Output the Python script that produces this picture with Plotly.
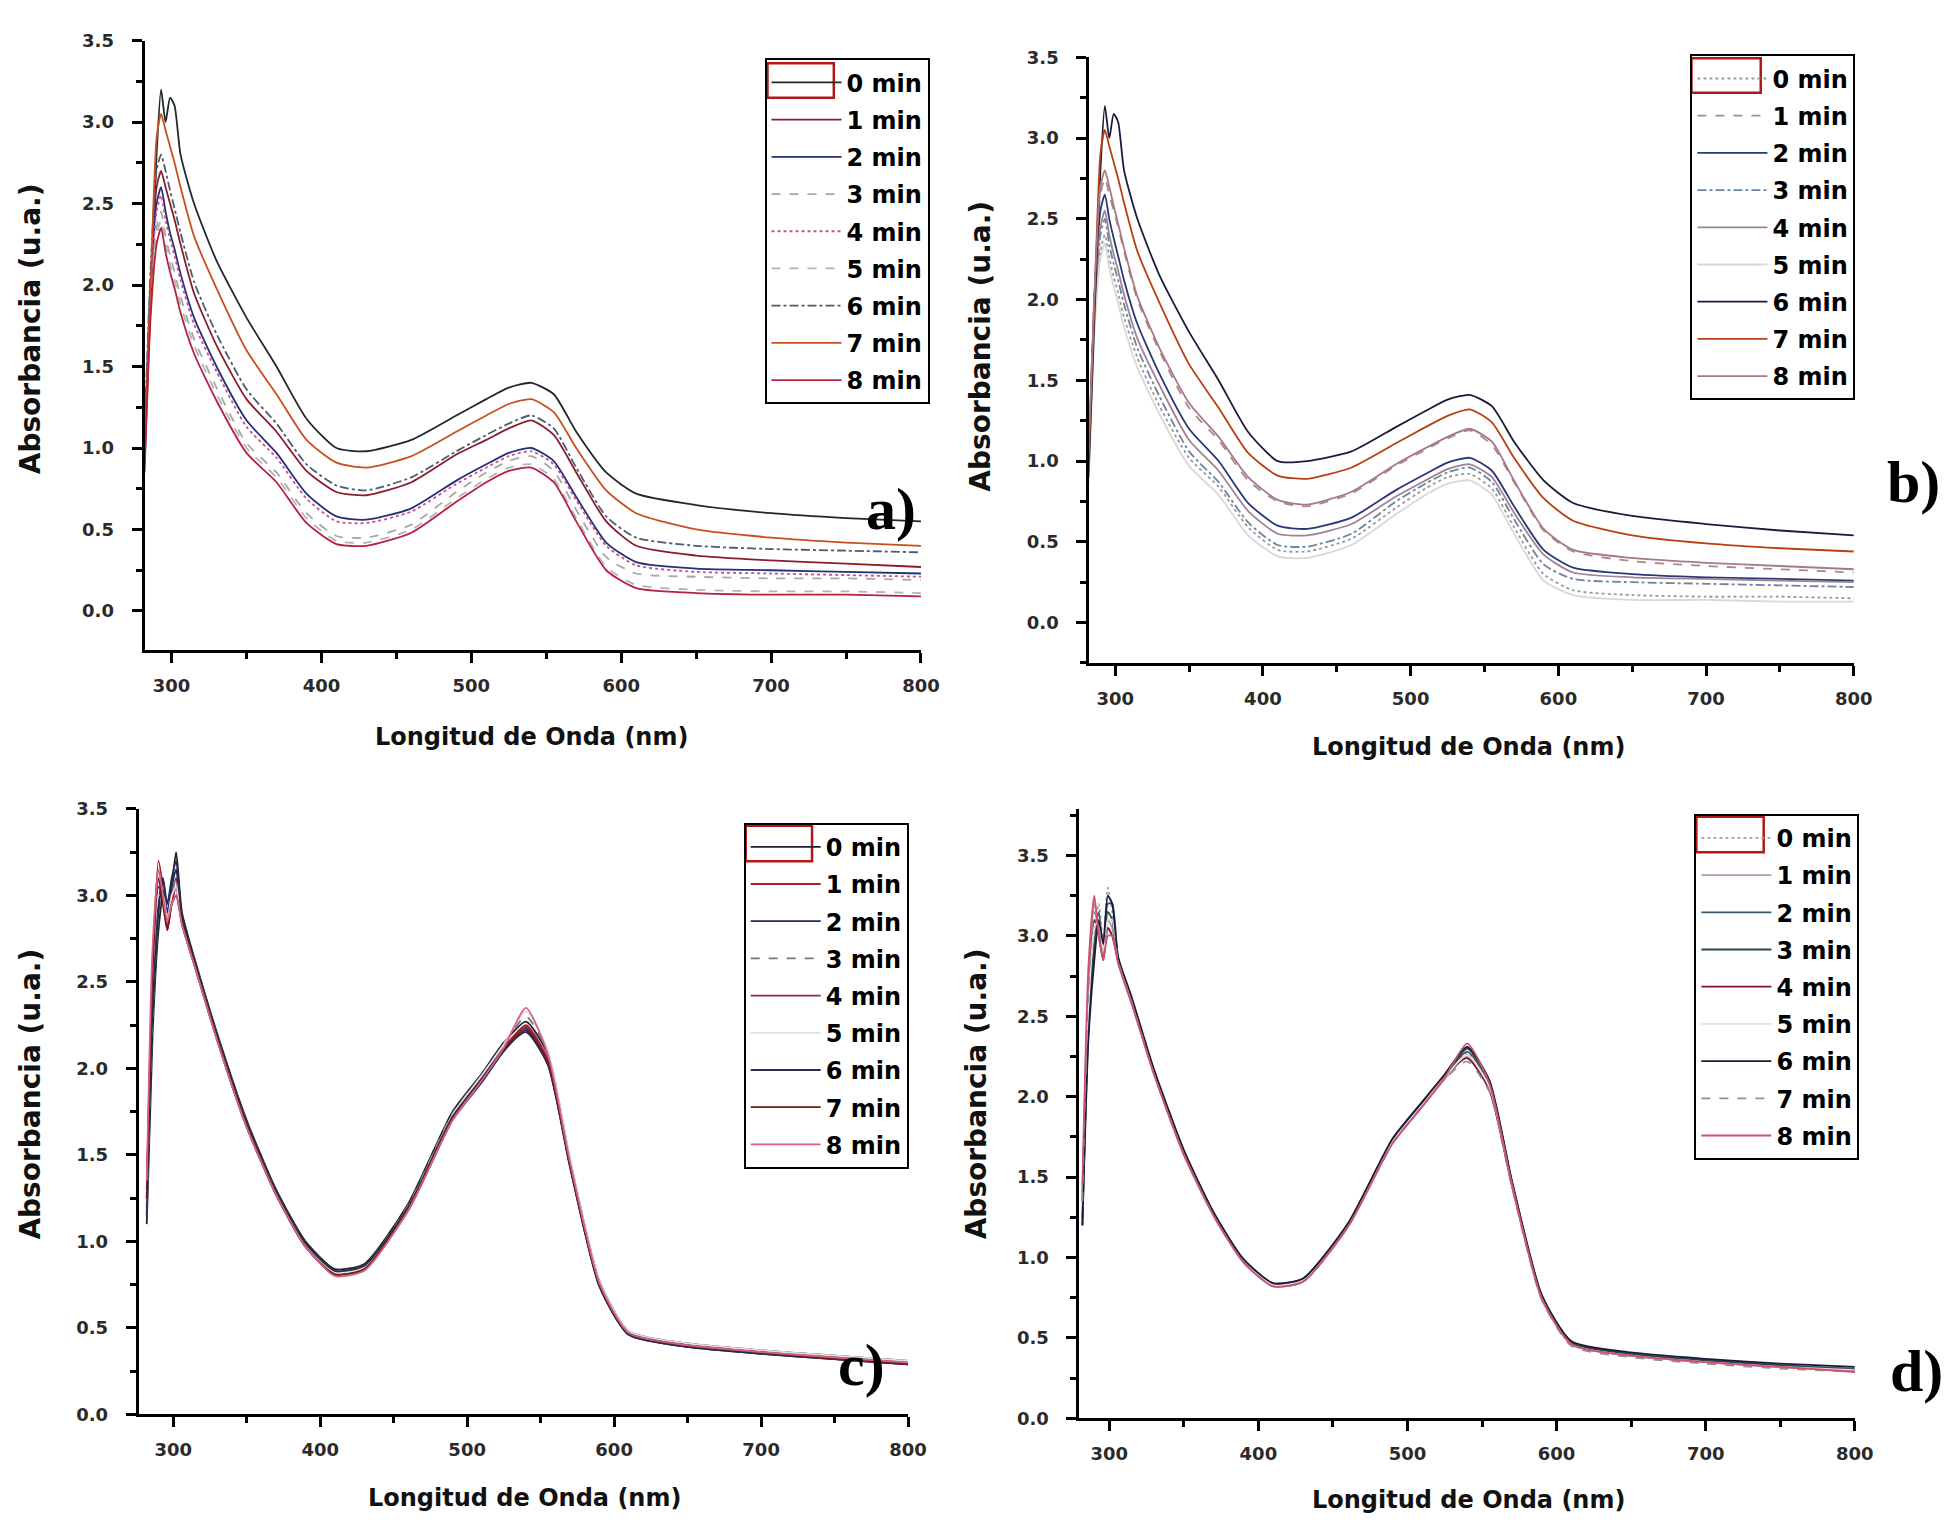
import plotly.graph_objects as go

# ---------------- data ----------------
wavelength = [282, 286, 290, 293, 296, 299, 302, 306, 315, 330, 350, 370, 390, 410,
              430, 460, 490, 510, 525, 540, 555, 570, 590, 610, 650, 700, 750, 800]

legend_labels = ["0 min", "1 min", "2 min", "3 min", "4 min", "5 min", "6 min", "7 min", "8 min"]

# panel a) absorbance, one list per legend entry (0 .. 8 min)
panel_a = [
    [0.90, 1.90, 2.80, 3.20, 3.00, 3.15, 3.10, 2.80, 2.50, 2.15, 1.80, 1.50, 1.18, 1.00, 0.98, 1.05, 1.20, 1.30, 1.37, 1.40, 1.33, 1.10, 0.85, 0.72, 0.65, 0.60, 0.57, 0.55],
    [1.00, 2.00, 2.60, 2.70, 2.60, 2.50, 2.40, 2.25, 1.95, 1.63, 1.30, 1.10, 0.86, 0.73, 0.71, 0.79, 0.96, 1.05, 1.12, 1.17, 1.08, 0.85, 0.55, 0.40, 0.34, 0.31, 0.29, 0.27],
    [1.00, 2.00, 2.50, 2.60, 2.45, 2.32, 2.22, 2.07, 1.80, 1.50, 1.17, 0.97, 0.72, 0.58, 0.56, 0.63, 0.80, 0.90, 0.97, 1.00, 0.92, 0.70, 0.42, 0.30, 0.26, 0.25, 0.24, 0.23],
    [0.90, 1.90, 2.35, 2.45, 2.30, 2.18, 2.08, 1.93, 1.67, 1.37, 1.03, 0.85, 0.60, 0.46, 0.45, 0.53, 0.73, 0.85, 0.92, 0.95, 0.86, 0.62, 0.33, 0.23, 0.21, 0.20, 0.20, 0.19],
    [0.95, 1.95, 2.45, 2.55, 2.40, 2.28, 2.18, 2.03, 1.76, 1.47, 1.13, 0.94, 0.69, 0.55, 0.54, 0.61, 0.78, 0.88, 0.95, 0.98, 0.90, 0.68, 0.40, 0.28, 0.24, 0.23, 0.22, 0.21],
    [0.90, 1.85, 2.30, 2.40, 2.25, 2.13, 2.03, 1.88, 1.63, 1.33, 1.00, 0.82, 0.57, 0.43, 0.42, 0.50, 0.69, 0.81, 0.88, 0.90, 0.81, 0.57, 0.27, 0.16, 0.13, 0.12, 0.12, 0.11],
    [1.10, 2.10, 2.70, 2.80, 2.70, 2.58, 2.47, 2.32, 2.02, 1.70, 1.36, 1.15, 0.90, 0.77, 0.74, 0.82, 0.98, 1.08, 1.15, 1.20, 1.12, 0.88, 0.58, 0.45, 0.40, 0.38, 0.37, 0.36],
    [1.00, 2.00, 2.90, 3.05, 2.95, 2.85, 2.75, 2.60, 2.30, 1.98, 1.60, 1.33, 1.05, 0.91, 0.88, 0.95, 1.10, 1.20, 1.27, 1.30, 1.22, 1.00, 0.74, 0.60, 0.50, 0.45, 0.42, 0.40],
    [0.85, 1.80, 2.25, 2.35, 2.20, 2.08, 1.98, 1.83, 1.58, 1.29, 0.97, 0.79, 0.54, 0.41, 0.40, 0.48, 0.67, 0.79, 0.86, 0.88, 0.79, 0.55, 0.25, 0.14, 0.11, 0.10, 0.10, 0.09],
]

# panel b)
panel_b = [
    [0.90, 1.85, 2.30, 2.40, 2.26, 2.14, 2.04, 1.89, 1.64, 1.34, 1.02, 0.84, 0.59, 0.45, 0.44, 0.52, 0.71, 0.83, 0.90, 0.92, 0.83, 0.59, 0.30, 0.20, 0.17, 0.16, 0.16, 0.15],
    [1.00, 2.05, 2.65, 2.75, 2.65, 2.55, 2.45, 2.30, 2.00, 1.68, 1.33, 1.13, 0.88, 0.75, 0.72, 0.80, 0.97, 1.07, 1.14, 1.19, 1.10, 0.87, 0.57, 0.44, 0.38, 0.35, 0.33, 0.31],
    [1.00, 2.00, 2.55, 2.65, 2.50, 2.38, 2.27, 2.12, 1.85, 1.54, 1.20, 1.00, 0.74, 0.60, 0.58, 0.65, 0.82, 0.92, 0.99, 1.02, 0.94, 0.72, 0.45, 0.34, 0.30, 0.28, 0.27, 0.26],
    [0.92, 1.90, 2.40, 2.50, 2.34, 2.22, 2.12, 1.97, 1.70, 1.40, 1.06, 0.87, 0.62, 0.48, 0.47, 0.55, 0.75, 0.86, 0.93, 0.96, 0.87, 0.64, 0.36, 0.27, 0.25, 0.24, 0.23, 0.22],
    [0.95, 1.95, 2.45, 2.55, 2.40, 2.28, 2.18, 2.03, 1.76, 1.47, 1.13, 0.94, 0.69, 0.55, 0.54, 0.61, 0.78, 0.88, 0.95, 0.98, 0.90, 0.68, 0.42, 0.31, 0.28, 0.27, 0.26, 0.25],
    [0.85, 1.80, 2.25, 2.35, 2.20, 2.08, 1.98, 1.83, 1.58, 1.29, 0.97, 0.79, 0.54, 0.41, 0.40, 0.48, 0.67, 0.79, 0.86, 0.88, 0.79, 0.55, 0.26, 0.17, 0.14, 0.14, 0.13, 0.13],
    [0.90, 1.90, 2.80, 3.20, 3.00, 3.15, 3.10, 2.80, 2.50, 2.15, 1.80, 1.50, 1.18, 1.00, 1.00, 1.06, 1.21, 1.31, 1.38, 1.41, 1.34, 1.12, 0.88, 0.74, 0.66, 0.61, 0.57, 0.54],
    [1.00, 2.00, 2.90, 3.05, 2.95, 2.85, 2.75, 2.60, 2.30, 1.98, 1.60, 1.33, 1.05, 0.91, 0.89, 0.96, 1.11, 1.21, 1.28, 1.32, 1.24, 1.02, 0.77, 0.63, 0.54, 0.49, 0.46, 0.44],
    [1.05, 2.05, 2.70, 2.80, 2.70, 2.58, 2.47, 2.32, 2.02, 1.70, 1.36, 1.15, 0.90, 0.76, 0.73, 0.81, 0.98, 1.08, 1.15, 1.20, 1.12, 0.88, 0.58, 0.45, 0.40, 0.37, 0.35, 0.33],
]

# panel c)
panel_c = [
    [1.10, 2.20, 2.80, 3.00, 2.85, 3.05, 3.25, 2.90, 2.62, 2.20, 1.70, 1.30, 1.00, 0.84, 0.87, 1.22, 1.75, 1.97, 2.15, 2.27, 2.08, 1.47, 0.77, 0.48, 0.41, 0.37, 0.34, 0.31],
    [1.30, 2.60, 3.20, 3.05, 2.80, 3.00, 3.10, 2.85, 2.60, 2.18, 1.68, 1.28, 0.98, 0.82, 0.85, 1.20, 1.72, 1.95, 2.12, 2.25, 2.05, 1.45, 0.75, 0.47, 0.40, 0.36, 0.33, 0.30],
    [1.20, 2.40, 2.95, 3.10, 2.90, 3.05, 3.15, 2.84, 2.58, 2.16, 1.66, 1.27, 0.97, 0.81, 0.84, 1.18, 1.70, 1.92, 2.10, 2.22, 2.02, 1.43, 0.74, 0.46, 0.39, 0.35, 0.32, 0.29],
    [1.15, 2.30, 2.90, 3.05, 2.85, 3.00, 3.10, 2.86, 2.61, 2.19, 1.69, 1.29, 0.99, 0.83, 0.86, 1.21, 1.74, 1.96, 2.14, 2.30, 2.09, 1.47, 0.77, 0.48, 0.41, 0.37, 0.34, 0.31],
    [1.25, 2.50, 3.05, 3.00, 2.80, 2.95, 3.05, 2.83, 2.59, 2.17, 1.67, 1.28, 0.98, 0.82, 0.85, 1.19, 1.71, 1.94, 2.12, 2.24, 2.04, 1.44, 0.75, 0.47, 0.40, 0.36, 0.33, 0.30],
    [1.20, 2.45, 3.00, 3.00, 2.85, 3.00, 3.05, 2.85, 2.60, 2.18, 1.68, 1.28, 0.98, 0.82, 0.85, 1.20, 1.73, 1.96, 2.14, 2.33, 2.10, 1.48, 0.77, 0.48, 0.41, 0.37, 0.34, 0.31],
    [1.15, 2.35, 2.90, 3.10, 2.95, 3.10, 3.20, 2.87, 2.61, 2.19, 1.69, 1.29, 0.99, 0.83, 0.86, 1.20, 1.72, 1.94, 2.11, 2.21, 2.02, 1.43, 0.74, 0.46, 0.39, 0.35, 0.32, 0.29],
    [1.25, 2.55, 3.10, 2.95, 2.80, 2.95, 3.00, 2.84, 2.59, 2.17, 1.67, 1.27, 0.97, 0.81, 0.84, 1.19, 1.71, 1.93, 2.11, 2.23, 2.03, 1.44, 0.75, 0.47, 0.40, 0.36, 0.32, 0.29],
    [1.35, 2.70, 3.15, 3.00, 2.85, 2.95, 3.00, 2.83, 2.58, 2.16, 1.66, 1.27, 0.97, 0.80, 0.83, 1.18, 1.70, 1.93, 2.12, 2.35, 2.08, 1.46, 0.76, 0.47, 0.40, 0.36, 0.33, 0.30],
]

# panel d)
panel_d = [
    [1.30, 2.50, 3.00, 3.20, 2.95, 3.30, 3.15, 2.85, 2.60, 2.15, 1.65, 1.27, 0.98, 0.83, 0.86, 1.20, 1.72, 1.95, 2.12, 2.27, 2.07, 1.46, 0.75, 0.46, 0.39, 0.35, 0.32, 0.30],
    [1.40, 2.70, 3.20, 3.05, 2.85, 3.10, 3.05, 2.83, 2.58, 2.14, 1.64, 1.26, 0.97, 0.82, 0.85, 1.19, 1.71, 1.94, 2.11, 2.25, 2.05, 1.45, 0.74, 0.46, 0.39, 0.35, 0.32, 0.29],
    [1.25, 2.45, 2.95, 3.15, 2.90, 3.20, 3.20, 2.86, 2.61, 2.16, 1.66, 1.28, 0.99, 0.84, 0.87, 1.21, 1.73, 1.96, 2.13, 2.28, 2.08, 1.47, 0.76, 0.47, 0.40, 0.36, 0.33, 0.31],
    [1.20, 2.40, 2.90, 3.10, 2.90, 3.15, 3.10, 2.85, 2.60, 2.15, 1.65, 1.27, 0.98, 0.83, 0.86, 1.20, 1.72, 1.95, 2.12, 2.30, 2.09, 1.47, 0.76, 0.47, 0.40, 0.36, 0.33, 0.30],
    [1.35, 2.60, 3.10, 3.00, 2.85, 3.05, 3.00, 2.84, 2.59, 2.15, 1.65, 1.27, 0.98, 0.83, 0.86, 1.20, 1.72, 1.95, 2.13, 2.24, 2.04, 1.45, 0.75, 0.46, 0.39, 0.35, 0.32, 0.30],
    [1.30, 2.55, 3.05, 3.10, 2.90, 3.10, 3.10, 2.85, 2.60, 2.15, 1.65, 1.27, 0.98, 0.83, 0.86, 1.20, 1.72, 1.95, 2.12, 2.26, 2.06, 1.46, 0.75, 0.46, 0.39, 0.35, 0.32, 0.30],
    [1.20, 2.35, 2.85, 3.10, 2.95, 3.25, 3.20, 2.87, 2.62, 2.17, 1.67, 1.28, 0.99, 0.84, 0.87, 1.21, 1.74, 1.97, 2.14, 2.31, 2.10, 1.48, 0.77, 0.48, 0.41, 0.37, 0.34, 0.32],
    [1.35, 2.65, 3.15, 3.05, 2.85, 3.05, 3.05, 2.84, 2.59, 2.14, 1.64, 1.26, 0.97, 0.82, 0.85, 1.19, 1.71, 1.94, 2.11, 2.22, 2.03, 1.44, 0.74, 0.45, 0.38, 0.34, 0.31, 0.29],
    [1.45, 2.80, 3.25, 3.00, 2.85, 3.00, 3.00, 2.83, 2.58, 2.14, 1.64, 1.26, 0.97, 0.82, 0.85, 1.19, 1.71, 1.94, 2.12, 2.33, 2.08, 1.46, 0.75, 0.46, 0.39, 0.35, 0.32, 0.29],
]

# ---------------- styles ----------------
colors_a = ["#1e2a2a", "#8b1c2c", "#23307a", "#a8a8a8", "#c8508c", "#b4b4b4", "#4c5c72", "#c8501e", "#b82040"]
dashes_a = ["solid", "solid", "solid", "dash", "dot", "dash", "dashdot", "solid", "solid"]
colors_b = ["#9a9a9a", "#a88c80", "#283878", "#6a86a0", "#a08494", "#d8d8d8", "#1a1c3a", "#b84010", "#a87888"]
dashes_b = ["dot", "dash", "solid", "dashdot", "solid", "solid", "solid", "solid", "solid"]
colors_c = ["#1a2430", "#a82030", "#1c2a6a", "#6a7888", "#a0204c", "#e0e0e0", "#2a2a4a", "#701c1c", "#d86080"]
dashes_c = ["solid", "solid", "solid", "dash", "solid", "solid", "solid", "solid", "solid"]
colors_d = ["#a0a0a0", "#b89898", "#3a5a6a", "#2a4848", "#801030", "#e0e0e0", "#1a1a3a", "#909090", "#d05070"]
dashes_d = ["dot", "solid", "solid", "solid", "solid", "solid", "solid", "dash", "solid"]

W, H = 1957, 1527
FONT = "DejaVu Sans"


def px(x):
    return x / W


def py(y):
    return 1 - y / H


panels = [
    dict(key="a", data=panel_a, colors=colors_a, dashes=dashes_a, xa="x", ya="y", legend="legend"),
    dict(key="b", data=panel_b, colors=colors_b, dashes=dashes_b, xa="x2", ya="y2", legend="legend2"),
    dict(key="c", data=panel_c, colors=colors_c, dashes=dashes_c, xa="x3", ya="y3", legend="legend3"),
    dict(key="d", data=panel_d, colors=colors_d, dashes=dashes_d, xa="x4", ya="y4", legend="legend4"),
]

fig = go.Figure()
for p in panels:
    for i, vals in enumerate(p["data"]):
        fig.add_trace(go.Scatter(
            x=wavelength, y=vals, mode="lines", name=legend_labels[i],
            xaxis=p["xa"], yaxis=p["ya"], legend=p["legend"],
            legendgroup=p["key"] + str(i),
            line=dict(color=p["colors"][i], width=1.8, dash=p["dashes"][i],
                      shape="spline", smoothing=0.6),
        ))

tickfont = dict(family=FONT, size=18, color="#2a2a2a", weight="bold")


def xaxis(domain, rng, anchor):
    return dict(domain=domain, range=rng, anchor=anchor, showline=True, linecolor="black",
                linewidth=3, ticks="outside", ticklen=10, tickwidth=2.5, tickcolor="black",
                tick0=300, dtick=100, showgrid=False, zeroline=False, tickfont=tickfont,
                ticklabelstandoff=7,
                minor=dict(ticks="outside", ticklen=6, tickwidth=2.5, tickcolor="black",
                           tick0=300, dtick=50, showgrid=False))


def yaxis(domain, rng, anchor):
    return dict(domain=domain, range=rng, anchor=anchor, showline=True, linecolor="black",
                linewidth=3, ticks="outside", ticklen=10, tickwidth=2.5, tickcolor="black",
                tick0=0, dtick=0.5, tickformat=".1f", showgrid=False, zeroline=False,
                tickfont=tickfont, ticklabelstandoff=14,
                minor=dict(ticks="outside", ticklen=6, tickwidth=2.5, tickcolor="black",
                           tick0=0, dtick=0.25, showgrid=False))


def legend(x, y):
    return dict(x=px(x), y=py(y), xanchor="left", yanchor="top", bgcolor="rgba(255,255,255,0)",
                bordercolor="black", borderwidth=2, tracegroupgap=3, itemwidth=70,
                font=dict(family=FONT, size=24, color="black", weight="bold"))


fig.update_layout(
    width=W, height=H, margin=dict(l=0, r=0, t=0, b=0),
    paper_bgcolor="white", plot_bgcolor="white", showlegend=True,
    xaxis=xaxis([px(146), px(930)], [282, 800], "y"),
    yaxis=yaxis([py(648), py(30)], [-0.24, 3.5], "x"),
    xaxis2=xaxis([px(1100), px(1872)], [282.5, 800], "y2"),
    yaxis2=yaxis([py(661), py(47)], [-0.25, 3.5], "x2"),
    xaxis3=xaxis([px(140), px(917)], [276.5, 800], "y3"),
    yaxis3=yaxis([py(1423), py(809)], [0, 3.5], "x3"),
    xaxis4=xaxis([px(1090), px(1873)], [280, 800], "y4"),
    yaxis4=yaxis([py(1427), py(809)], [0, 3.79], "x4"),
    legend=legend(772, 48),
    legend2=legend(1707, 44),
    legend3=legend(751, 823),
    legend4=legend(1711, 814),
)

xtitle_font = dict(family=FONT, size=24, color="#111111", weight="bold")
ytitle_font = dict(family=FONT, size=28, color="#111111", weight="bold")
annotations = []
for (xt, yt) in [(537, 736), (1483, 746), (530, 1508), (1483, 1510)]:
    annotations.append(dict(text="Longitud de Onda (nm)", x=px(xt), y=py(yt), xref="paper",
                            yref="paper", showarrow=False, font=xtitle_font,
                            xanchor="center", yanchor="middle"))
for (xt, yt) in [(31, 322), (990, 340), (31, 1098), (986, 1098)]:
    annotations.append(dict(text="Absorbancia (u.a.)", x=px(xt), y=py(yt), xref="paper",
                            yref="paper", showarrow=False, font=ytitle_font, textangle=-90,
                            xanchor="center", yanchor="middle"))
for (lab, xt, yt) in [("a)", 900, 505), ("b)", 1932, 478), ("c)", 870, 1373), ("d)", 1935, 1379)]:
    annotations.append(dict(text=lab, x=px(xt), y=py(yt), xref="paper", yref="paper",
                            showarrow=False, xanchor="center", yanchor="middle",
                            font=dict(family="Liberation Serif", size=60, color="black",
                                      weight="bold")))
fig.update_layout(annotations=annotations)

shapes = []
for (x0, y0, x1, y1) in [(775, 53, 842, 88), (1708, 48, 1778, 83), (753, 826, 820, 862), (1713, 817, 1781, 853)]:
    shapes.append(dict(type="rect", xref="paper", yref="paper", x0=px(x0), x1=px(x1),
                       y0=py(y1), y1=py(y0), line=dict(color="#b01818", width=2.5)))
fig.update_layout(shapes=shapes)

fig.write_html("out.html")
